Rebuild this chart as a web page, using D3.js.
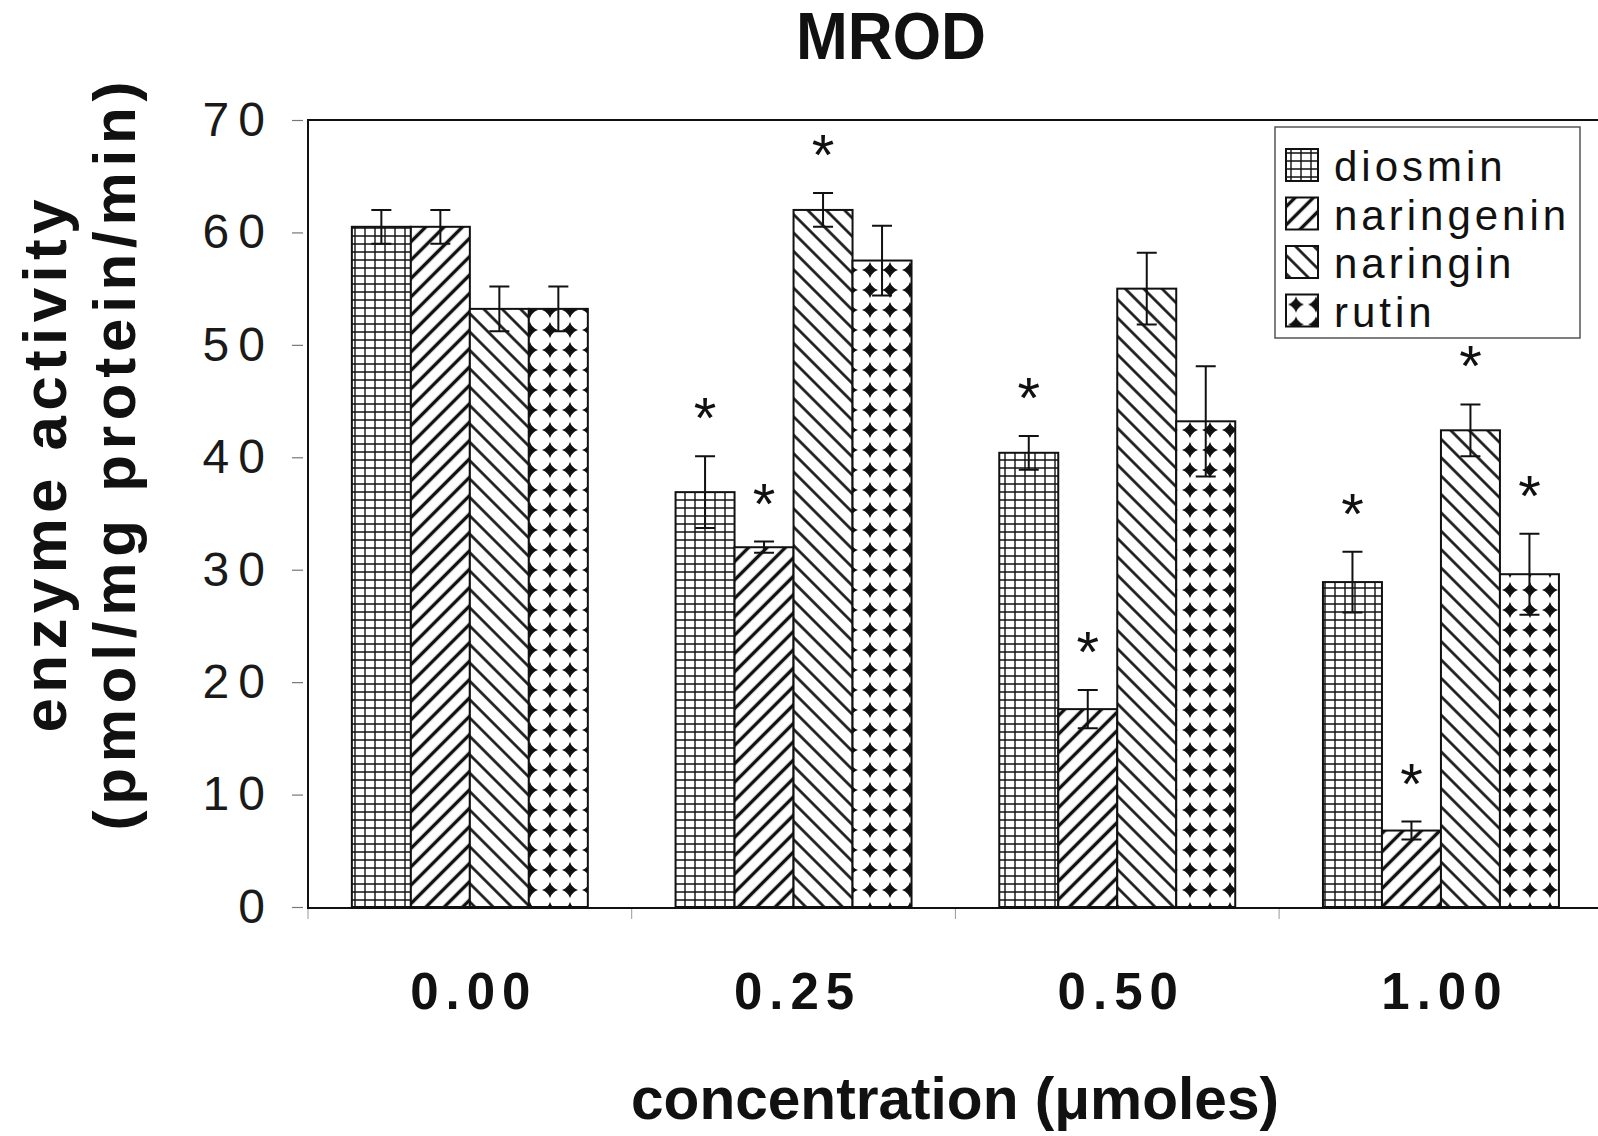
<!DOCTYPE html>
<html>
<head>
<meta charset="utf-8">
<script src="https://cdn.jsdelivr.net/npm/d3@7"></script>
<style>
  html, body { margin: 0; padding: 0; background: #fff; }
  svg { display: block; }
</style>
</head>
<body>
<svg id="chart" width="1598" height="1136"></svg>
<script>
// ---- data ----
const categories = ["0.00", "0.25", "0.50", "1.00"];
const seriesNames = ["diosmin", "naringenin", "naringin", "rutin"];
const diosmin = [60.5, 36.9, 40.4, 28.9];
const naringenin = [60.5, 32.0, 17.6, 6.8];
const naringin = [53.2, 62.0, 55.0, 42.4];
const rutin = [53.2, 57.5, 43.2, 29.6];
const diosminErr = [1.5, 3.2, 1.5, 2.7];
const naringeninErr = [1.5, 0.5, 1.7, 0.8];
const naringinErr = [2.0, 1.5, 3.2, 2.3];
const rutinErr = [2.0, 3.1, 4.9, 3.6];
const diosminSig = [false, true, true, true];
const naringeninSig = [false, true, true, true];
const naringinSig = [false, true, false, true];
const rutinSig = [false, false, false, true];
const yTicks = [0, 10, 20, 30, 40, 50, 60, 70];
const titleText = "MROD";
const xTitle = "concentration (\u03BCmoles)";
const yTitle1 = "enzyme activity";
const yTitle2 = "(pmol/mg protein/min)";

const seriesValues = { diosmin, naringenin, naringin, rutin };
const seriesErrors = { diosmin: diosminErr, naringenin: naringeninErr, naringin: naringinErr, rutin: rutinErr };
const seriesSig = { diosmin: diosminSig, naringenin: naringeninSig, naringin: naringinSig, rutin: rutinSig };

const svg = d3.select("#chart");
const FONT = "'Liberation Sans', Arial, Helvetica, sans-serif";

// ---- patterns ----
const defs = svg.append("defs");
const pG = defs.append("pattern").attr("id", "p-diosmin").attr("patternUnits", "userSpaceOnUse")
  .attr("width", 10).attr("height", 8);
pG.append("rect").attr("width", 10).attr("height", 8).attr("fill", "#fff");
pG.append("path").attr("d", "M5,0V8M0,4H10").attr("stroke", "#111").attr("stroke-width", 1.4);
const pN = defs.append("pattern").attr("id", "p-naringenin").attr("patternUnits", "userSpaceOnUse")
  .attr("width", 13).attr("height", 13).attr("patternTransform", "rotate(45)");
pN.append("rect").attr("width", 13).attr("height", 13).attr("fill", "#fff");
pN.append("path").attr("d", "M6.5,0V13").attr("stroke", "#111").attr("stroke-width", 3.4);
const pR = defs.append("pattern").attr("id", "p-naringin").attr("patternUnits", "userSpaceOnUse")
  .attr("width", 13).attr("height", 13).attr("patternTransform", "rotate(-45)");
pR.append("rect").attr("width", 13).attr("height", 13).attr("fill", "#fff");
pR.append("path").attr("d", "M6.5,0V13").attr("stroke", "#111").attr("stroke-width", 2.6);
const pD = defs.append("pattern").attr("id", "p-rutin").attr("patternUnits", "userSpaceOnUse")
  .attr("width", 20).attr("height", 20);
pD.append("rect").attr("width", 20).attr("height", 20).attr("fill", "#fff");
pD.append("path").attr("d", "M10,2 Q12,8 18,10 Q12,12 10,18 Q8,12 2,10 Q8,8 10,2Z").attr("fill", "#111");
pD.append("circle").attr("cx", 10).attr("cy", 10).attr("r", 4.2).attr("fill", "#111");

const patternOf = name => `url(#p-${name})`;

// ---- scales ----
const plotLeft = 308, plotTop = 120, plotBottom = 907;
const step = 323.7;
const x0 = d3.scaleBand().domain(categories)
  .range([plotLeft, plotLeft + step * categories.length])
  .paddingInner(0.271).paddingOuter(0.1355);
const x1 = d3.scaleBand().domain(seriesNames).range([0, x0.bandwidth()]);
const y = d3.scaleLinear().domain([0, 70]).range([plotBottom, plotTop]);

// ---- frame ----
const plotRight = plotLeft + step * categories.length;
svg.append("path")
  .attr("d", `M${plotRight},${plotTop}H${plotLeft}V${plotBottom + 1}H${plotRight}`)
  .attr("fill", "none").attr("stroke", "#111").attr("stroke-width", 2);

// ---- y axis ----
const yAxis = svg.append("g").attr("transform", `translate(${plotLeft - 5},0)`)
  .call(d3.axisLeft(y).tickValues(yTicks).tickSize(11).tickPadding(18).tickFormat(d3.format("d")));
yAxis.select(".domain").remove();
yAxis.selectAll(".tick line").attr("stroke", "#777").attr("stroke-width", 1.2);
yAxis.selectAll(".tick text")
  .attr("font-family", FONT).attr("font-size", 48).attr("fill", "#1a1a1a")
  .attr("letter-spacing", "9px");

// ---- x axis ticks (band boundaries) ----
const boundaries = categories.map(c => x0(c) - x0.step() * 0.1355).concat([plotRight]);
svg.append("g").selectAll("line").data(boundaries).join("line")
  .attr("x1", d => d).attr("x2", d => d)
  .attr("y1", plotBottom + 2).attr("y2", plotBottom + 12)
  .attr("stroke", "#999").attr("stroke-width", 1);

svg.append("g").selectAll("text").data(categories).join("text")
  .attr("x", d => x0(d) + x0.bandwidth() / 2 + 4)
  .attr("y", 1009)
  .attr("text-anchor", "middle")
  .attr("font-family", FONT).attr("font-weight", "bold").attr("font-size", 51)
  .attr("letter-spacing", "7px").attr("fill", "#111")
  .text(d => d);

// ---- bars ----
const rows = [];
categories.forEach((c, i) => {
  seriesNames.forEach(s => {
    rows.push({ cat: c, series: s, value: seriesValues[s][i], err: seriesErrors[s][i], sig: seriesSig[s][i] });
  });
});

svg.append("g").selectAll("rect").data(rows).join("rect")
  .attr("x", d => x0(d.cat) + x1(d.series))
  .attr("y", d => y(d.value))
  .attr("width", x1.bandwidth())
  .attr("height", d => y(0) - y(d.value))
  .attr("fill", d => patternOf(d.series))
  .attr("stroke", "#111").attr("stroke-width", 2);

// ---- error bars ----
const cap = 10;
svg.append("g").attr("stroke", "#111").attr("stroke-width", 2).attr("fill", "none")
  .selectAll("path").data(rows).join("path")
  .attr("d", d => {
    const cx = x0(d.cat) + x1(d.series) + x1.bandwidth() / 2;
    const yt = y(d.value + d.err), yb = y(d.value - d.err);
    return `M${cx - cap},${yt}H${cx + cap}M${cx},${yt}V${yb}M${cx - cap},${yb}H${cx + cap}`;
  });

// ---- significance stars ----
svg.append("g").selectAll("text").data(rows.filter(d => d.sig)).join("text")
  .attr("x", d => x0(d.cat) + x1(d.series) + x1.bandwidth() / 2)
  .attr("y", d => y(d.value + d.err) - 50 + 32)
  .attr("text-anchor", "middle")
  .attr("font-family", FONT).attr("font-size", 58).attr("fill", "#111")
  .text("*");

// ---- legend ----
const lg = svg.append("g");
lg.append("rect").attr("x", 1275).attr("y", 127).attr("width", 305).attr("height", 211)
  .attr("fill", "#fff").attr("stroke", "#555").attr("stroke-width", 1.5);
const li = lg.selectAll("g.item").data(seriesNames).join("g").attr("class", "item")
  .attr("transform", (d, i) => `translate(1286,${149 + i * 48.5})`);
li.append("rect").attr("width", 32).attr("height", 32)
  .attr("fill", d => patternOf(d)).attr("stroke", "#111").attr("stroke-width", 2);
li.append("text").attr("x", 48).attr("y", 32)
  .attr("font-family", FONT).attr("font-size", 42).attr("letter-spacing", "4px").attr("fill", "#111")
  .text(d => d);

// ---- titles ----
svg.append("text").attr("x", 891).attr("y", 59).attr("text-anchor", "middle")
  .attr("font-family", FONT).attr("font-weight", "bold").attr("font-size", 66)
  .attr("textLength", 190).attr("lengthAdjust", "spacingAndGlyphs").attr("fill", "#111")
  .text(titleText);

svg.append("text").attr("x", 955).attr("y", 1119).attr("text-anchor", "middle")
  .attr("font-family", FONT).attr("font-weight", "bold").attr("font-size", 60)
  .attr("textLength", 648).attr("lengthAdjust", "spacingAndGlyphs").attr("fill", "#111")
  .text(xTitle);

svg.append("text").attr("transform", "translate(66,466) rotate(-90)")
  .attr("text-anchor", "middle")
  .attr("font-family", FONT).attr("font-weight", "bold").attr("font-size", 62)
  .attr("textLength", 533).attr("lengthAdjust", "spacing").attr("fill", "#111")
  .text(yTitle1);
svg.append("text").attr("transform", "translate(135,456) rotate(-90)")
  .attr("text-anchor", "middle")
  .attr("font-family", FONT).attr("font-weight", "bold").attr("font-size", 60)
  .attr("textLength", 749).attr("lengthAdjust", "spacing").attr("fill", "#111")
  .text(yTitle2);
</script>
</body>
</html>
